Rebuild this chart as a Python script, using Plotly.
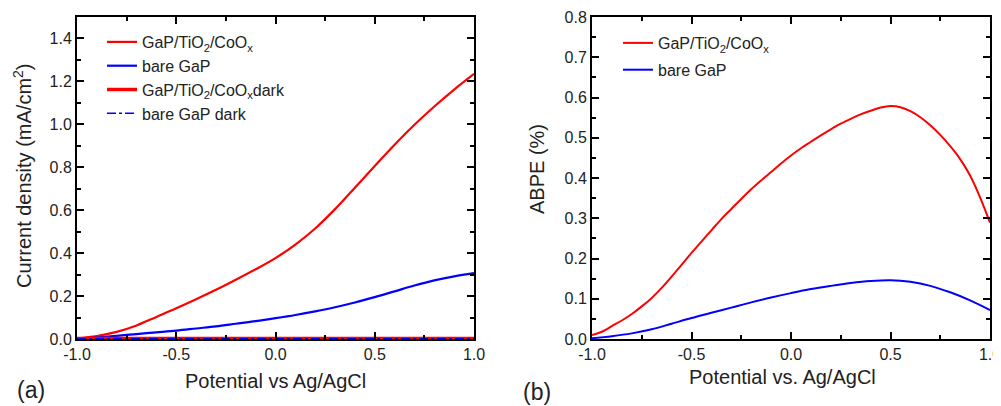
import plotly.graph_objects as go

# Panel (a): current density (mA/cm^2) vs potential (V vs Ag/AgCl)
x_a = [-1.0, -0.9, -0.8, -0.7, -0.6, -0.5, -0.4, -0.3, -0.2, -0.1, 0.0,
       0.1, 0.2, 0.3, 0.4, 0.5, 0.6, 0.7, 0.8, 0.9, 1.0]
j_coated = [0.003, 0.014, 0.033, 0.063, 0.103, 0.143, 0.185, 0.229, 0.276, 0.325, 0.377,
            0.44, 0.515, 0.605, 0.705, 0.806, 0.905, 0.998, 1.083, 1.162, 1.235]
j_bare = [0.0, 0.007, 0.015, 0.023, 0.031, 0.039, 0.049, 0.059, 0.071, 0.083, 0.097,
          0.112, 0.129, 0.148, 0.17, 0.195, 0.222, 0.249, 0.273, 0.292, 0.307]
x_dark = [-1.0, -0.5, 0.0, 0.5, 1.0]
j_coated_dark = [0.002, 0.002, 0.002, 0.002, 0.002]
j_bare_dark = [0.001, 0.001, 0.001, 0.001, 0.001]

# Panel (b): ABPE (%)
x_b = [-1.0, -0.95, -0.9, -0.85, -0.8, -0.75, -0.7, -0.65, -0.6, -0.55, -0.5,
       -0.45, -0.4, -0.35, -0.3, -0.25, -0.2, -0.15, -0.1, -0.05, 0.0,
       0.05, 0.1, 0.15, 0.2, 0.25, 0.3, 0.35, 0.4, 0.45, 0.5,
       0.55, 0.6, 0.65, 0.7, 0.75, 0.8, 0.85, 0.9, 0.95, 1.0]
abpe_coated = [0.01, 0.018, 0.032, 0.046, 0.062, 0.081, 0.102, 0.127, 0.155, 0.184, 0.214,
               0.242, 0.27, 0.298, 0.323, 0.348, 0.372, 0.394, 0.415, 0.436, 0.456,
               0.474, 0.49, 0.506, 0.521, 0.535, 0.547, 0.558, 0.567, 0.575, 0.579,
               0.576, 0.566, 0.551, 0.531, 0.507, 0.479, 0.447, 0.406, 0.352, 0.289]
x_b2 = [-1.0, -0.9, -0.8, -0.7, -0.6, -0.5, -0.4, -0.3, -0.2, -0.1, 0.0,
        0.1, 0.2, 0.3, 0.4, 0.5, 0.6, 0.7, 0.8, 0.9, 1.0]
abpe_bare = [0.002, 0.007, 0.014, 0.024, 0.038, 0.052, 0.065, 0.078, 0.091, 0.103, 0.114,
             0.124, 0.132, 0.139, 0.144, 0.146, 0.142, 0.132, 0.116, 0.096, 0.072]

# Tick labels
x_ticks = [-1.0, -0.5, 0.0, 0.5, 1.0]
x_ticklabels = ["-1.0", "-0.5", "0.0", "0.5", "1.0"]
ya_ticks = [0.0, 0.2, 0.4, 0.6, 0.8, 1.0, 1.2, 1.4]
ya_ticklabels = ["0.0", "0.2", "0.4", "0.6", "0.8", "1.0", "1.2", "1.4"]
yb_ticks = [0.0, 0.1, 0.2, 0.3, 0.4, 0.5, 0.6, 0.7, 0.8]
yb_ticklabels = ["0.0", "0.1", "0.2", "0.3", "0.4", "0.5", "0.6", "0.7", "0.8"]

RED = "#ff0000"
BLUE = "#0000ff"
FONT = "Liberation Sans, Arial, sans-serif"
TXT = "#222222"

fig = go.Figure()
fig.add_trace(go.Scatter(x=x_a, y=j_coated, mode="lines", line=dict(color=RED, width=2.2, shape="spline"),
                         name="GaP/TiO<sub>2</sub>/CoO<sub>x</sub>", xaxis="x", yaxis="y", legend="legend"))
fig.add_trace(go.Scatter(x=x_a, y=j_bare, mode="lines", line=dict(color=BLUE, width=2.2, shape="spline"),
                         name="bare GaP", xaxis="x", yaxis="y", legend="legend"))
fig.add_trace(go.Scatter(x=x_dark, y=j_coated_dark, mode="lines", line=dict(color=RED, width=3.5),
                         name="GaP/TiO<sub>2</sub>/CoO<sub>x</sub>dark", xaxis="x", yaxis="y", legend="legend"))
fig.add_trace(go.Scatter(x=x_dark, y=j_bare_dark, mode="lines", line=dict(color=BLUE, width=1.5, dash="dashdot"),
                         name="bare GaP dark", xaxis="x", yaxis="y", legend="legend"))
fig.add_trace(go.Scatter(x=x_b, y=abpe_coated, mode="lines", line=dict(color=RED, width=2, shape="spline"),
                         name="GaP/TiO<sub>2</sub>/CoO<sub>x</sub>", xaxis="x2", yaxis="y2",
                         legend="legend2", legendgroup="b1"))
fig.add_trace(go.Scatter(x=x_b2, y=abpe_bare, mode="lines", line=dict(color=BLUE, width=2, shape="spline"),
                         name="bare GaP", xaxis="x2", yaxis="y2", legend="legend2", legendgroup="b2"))

# page has an 8px body margin; figure sized to fit inside the window
OFF = 8
W, H = 993, 398
def fx(px):
    return (px - OFF) / W
def fy(py):
    return 1 - (py - OFF) / H

axis_common = dict(showline=True, linecolor="black", linewidth=2, mirror="ticks",
                   ticks="inside", ticklen=7, tickwidth=1.5, tickcolor="black",
                   showgrid=False, zeroline=False, automargin=False, tickmode="array",
                   ticklabeloverflow="allow",
                   tickfont=dict(family=FONT, size=16, color=TXT))

fig.update_layout(
    width=W, height=H,
    margin=dict(l=0, r=0, t=0, b=0),
    paper_bgcolor="white", plot_bgcolor="white",
    xaxis=dict(domain=[fx(77), fx(474)], range=[-1, 1], tickvals=x_ticks, ticktext=x_ticklabels,
               minor=dict(ticks="inside", ticklen=4, dtick=0.25, tickcolor="black", tickwidth=1.5),
               anchor="y", **axis_common),
    yaxis=dict(domain=[fy(339), fy(17)], range=[0, 1.5], tickvals=ya_ticks, ticktext=ya_ticklabels,
               minor=dict(ticks="inside", ticklen=4, dtick=0.1, tickcolor="black", tickwidth=1.5),
               anchor="x", **axis_common),
    xaxis2=dict(domain=[fx(592), fx(990)], range=[-1, 1], tickvals=x_ticks, ticktext=x_ticklabels,
                minor=dict(ticks="inside", ticklen=4, dtick=0.25, tickcolor="black", tickwidth=1.5),
                anchor="y2", **axis_common),
    yaxis2=dict(domain=[fy(339), fy(17)], range=[0, 0.8], tickvals=yb_ticks, ticktext=yb_ticklabels,
                minor=dict(ticks="inside", ticklen=4, dtick=0.05, tickcolor="black", tickwidth=1.5),
                anchor="x2", **axis_common),
    legend=dict(x=fx(102), y=fy(25), xanchor="left", yanchor="top", bgcolor="rgba(0,0,0,0)",
                font=dict(family=FONT, size=16, color=TXT), tracegroupgap=0, itemwidth=30),
    legend2=dict(x=fx(618), y=fy(26), xanchor="left", yanchor="top", bgcolor="rgba(0,0,0,0)",
                 font=dict(family=FONT, size=16, color=TXT), tracegroupgap=3, itemwidth=30),
    showlegend=True,
)

ann_font = dict(family=FONT, size=20, color=TXT)
def label(px, py, text, font, angle=0):
    fig.add_annotation(x=fx(px), y=fy(py), xref="paper", yref="paper", text=text,
                       xanchor="center", yanchor="middle", showarrow=False,
                       font=font, textangle=angle)

label(275, 381, "Potential vs Ag/AgCl", ann_font)
label(782, 377, "Potential vs. Ag/AgCl", ann_font)
label(22, 176, "Current density (mA/cm<sup>2</sup>)", ann_font, -90)
label(537, 169, "ABPE (%)", ann_font, -90)
label(31, 390, "(a)", dict(family=FONT, size=23, color=TXT))
label(537, 392, "(b)", dict(family=FONT, size=23, color=TXT))

fig.write_html("out.html")
